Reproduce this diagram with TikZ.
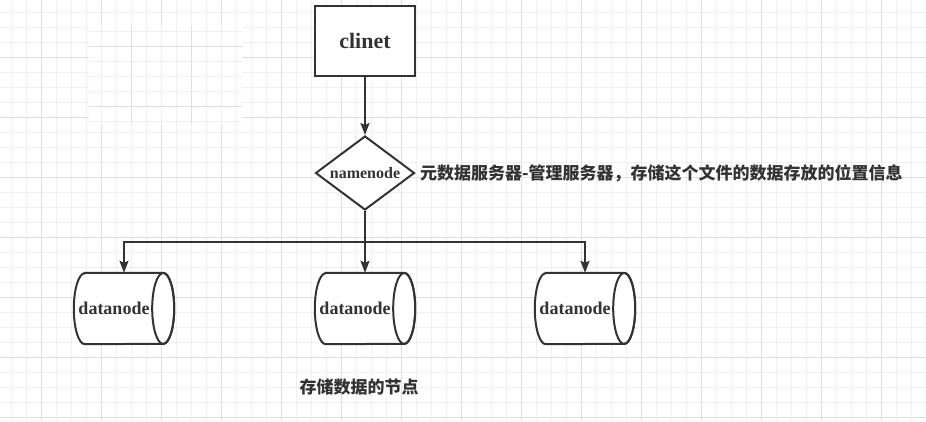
\documentclass[tikz,border=0pt]{standalone}
\usepackage{fontspec}
\setmainfont{Liberation Serif}
\newfontfamily\cjk{Noto Sans CJK SC}
\usetikzlibrary{shapes.geometric,arrows.meta}
\definecolor{ink}{HTML}{333333}
\definecolor{gminor}{HTML}{F0F0F0}
\definecolor{gmajor}{HTML}{E0E0E0}
\newcommand\drawcyl[1]{%
  \draw[shp,fill=white] ([xshift=11pt]#1.north west) -- ([xshift=-11pt]#1.north east)
    arc[start angle=90,end angle=-90,x radius=11pt,y radius=35.5pt]
    -- ([xshift=11pt]#1.south west)
    arc[start angle=270,end angle=90,x radius=11pt,y radius=35.5pt] -- cycle;
  \draw[shp] ([xshift=-11pt]#1.east) ellipse[x radius=11pt,y radius=35.5pt];}
\begin{document}
\begin{tikzpicture}[x=1pt,y=1pt,
  gridminor/.style={draw=gminor,line width=1pt},
  gridmajor/.style={draw=gmajor,line width=1pt},
  shp/.style={draw=ink,line width=2pt},
  arr/.style={draw=ink,line width=2pt,-{Stealth[length=12pt,width=9pt,inset=2pt]}},
  lbl/.style={text=ink,font=\bfseries\fontsize{18}{20}\selectfont,inner sep=0pt},
  cjklbl/.style={text=ink,font=\cjk\bfseries\fontsize{17}{20}\selectfont,inner sep=0pt},
  cylbox/.style={draw=none,minimum width=100pt,minimum height=71pt,inner sep=0pt}]
\useasboundingbox (0,0) rectangle (926,421);
\fill[white] (0,0) rectangle (926,421);
% background grid
\foreach \i in {0,...,61} \draw[gridminor] ({11.67+15*\i},0) -- ++(0,421);
\foreach \i in {0,...,27} \draw[gridminor] (0,{408.7-15*\i}) -- ++(926,0);
\foreach \i in {0,...,14} \draw[gridmajor] ({41.67+60*\i},0) -- ++(0,421);
\foreach \i in {0,...,6} \draw[gridmajor] (0,{363.7-60*\i}) -- ++(926,0);
% shifted patch
\fill[white] (89,298) rectangle (242,396);
\begin{scope}
  \clip (89,298) rectangle (242,396);
  \foreach \i in {-1,...,10} \draw[gridminor] ({101.67+15*\i},298) -- ++(0,98);
  \foreach \i in {0,...,6} \draw[gridminor] (89,{389.3-15*\i}) -- ++(153,0);
  \foreach \xx in {131.67,191.67} \draw[gridmajor] (\xx,298) -- ++(0,98);
  \foreach \yy in {374.3,314.3} \draw[gridmajor] (89,\yy) -- ++(153,0);
\end{scope}
% nodes
\node[shp,fill=white,minimum width=100pt,minimum height=70pt,inner sep=0pt,
      text=ink,font=\bfseries\fontsize{22}{24}\selectfont] (cl) at (365,380) {clinet};
\node[shp,fill=white,diamond,minimum width=99pt,minimum height=74pt,inner sep=0pt,
      shape aspect=1.34,text=ink,font=\bfseries\fontsize{16}{18}\selectfont] (nn) at (365,248) {namenode};
\node[cjklbl,anchor=west] (nnl) at (420,248) {元数据服务器-管理服务器，存储这个文件的数据存放的位置信息};
\node[cylbox] (d1) at (124,112.5) {};
\node[cylbox] (d2) at (365,112.5) {};
\node[cylbox] (d3) at (585,112.5) {};
\drawcyl{d1}\drawcyl{d2}\drawcyl{d3}
\node[lbl] (d1t) at ([xshift=-10pt]d1.center) {datanode};
\node[lbl] (d2t) at ([xshift=-10pt]d2.center) {datanode};
\node[lbl] (d3t) at ([xshift=-10pt]d3.center) {datanode};
\node[cjklbl] (dl) at (359,34) {存储数据的节点};
% connectors
\coordinate (j) at (365,179);
\draw[arr] (cl.south) -- (nn.north);
\draw[arr] (nn.south) -- (j) -- (d2.north);
\draw[arr] (j) -| (d1.north);
\draw[arr] (j) -| (d3.north);
\end{tikzpicture}
\end{document}
